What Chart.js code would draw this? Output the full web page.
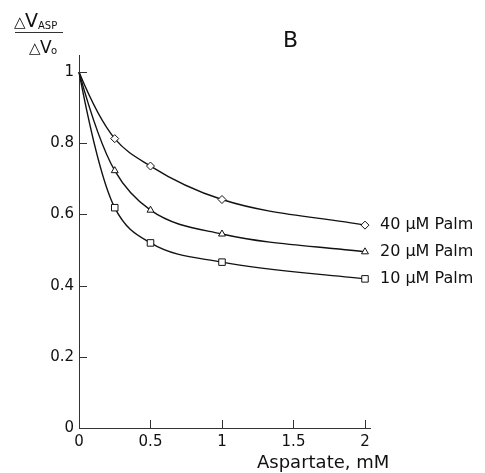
<!DOCTYPE html>
<html>
<head>
<meta charset="utf-8">
<script src="https://cdn.jsdelivr.net/npm/chart.js@4/dist/chart.umd.min.js"></script>
<style>
  html, body { margin: 0; background: #fff; }
  #wrap { width: 485px; height: 473px; position: relative; }
</style>
</head>
<body>
<div id="wrap"><canvas id="chart"></canvas></div>
<script>
// aspartate concentration (mM) and relative response for each palmitate level
const aspartate = [0, 0.25, 0.5, 1, 2];
const palm40 = [1, 0.813, 0.736, 0.642, 0.570];
const palm20 = [1, 0.723, 0.612, 0.545, 0.495];
const palm10 = [1, 0.619, 0.520, 0.466, 0.419];
const seriesLabels = ['40 μM Palm', '20 μM Palm', '10 μM Palm'];
const xTicks = [0, 0.5, 1, 1.5, 2];
const yTicks = [0, 0.2, 0.4, 0.6, 0.8, 1];

const FONT = 'DejaVu Sans';
const INK = '#111';

function series(values, style, label) {
  return {
    label,
    data: aspartate.map((x, i) => ({ x, y: values[i] })),
    showLine: false,
    borderColor: INK,
    pointStyle: style,
    pointRadius: values.map((v, i) => (i === 0 ? 0 : style === 'rect' ? 4.6 : 4)),
    pointBorderColor: INK,
    pointBorderWidth: 1,
    pointBackgroundColor: '#fff',
  };
}

// smooth curve through each series: cubic hermite whose inner tangents are a
// mix of the spacing-weighted arithmetic and harmonic means of the secants,
// with a three-point estimate at the ends so the drop near zero starts steep
const smoothCurves = {
  id: 'smoothCurves',
  beforeDatasetsDraw(chart) {
    const { ctx } = chart;
    ctx.save();
    ctx.strokeStyle = INK;
    ctx.lineWidth = 1.4;
    ctx.lineJoin = 'round';
    chart.data.datasets.forEach((ds, di) => {
      const pts = chart.getDatasetMeta(di).data;
      const n = pts.length;
      const h = [];
      const s = [];
      for (let i = 0; i < n - 1; i++) {
        h[i] = pts[i + 1].x - pts[i].x;
        s[i] = (pts[i + 1].y - pts[i].y) / h[i];
      }
      const m = [];
      m[0] = ((2 * h[0] + h[1]) * s[0] - h[0] * s[1]) / (h[0] + h[1]);
      for (let i = 1; i < n - 1; i++) {
        const arith = (h[i] * s[i - 1] + h[i - 1] * s[i]) / (h[i - 1] + h[i]);
        const w1 = 2 * h[i] + h[i - 1];
        const w2 = h[i] + 2 * h[i - 1];
        const harm = (w1 + w2) / (w1 / s[i - 1] + w2 / s[i]);
        m[i] = (arith + harm) / 2;
      }
      m[n - 1] = s[n - 2];
      ctx.beginPath();
      ctx.moveTo(pts[0].x, pts[0].y);
      for (let i = 0; i < n - 1; i++) {
        const d = h[i] / 3;
        ctx.bezierCurveTo(
          pts[i].x + d, pts[i].y + m[i] * d,
          pts[i + 1].x - d, pts[i + 1].y - m[i + 1] * d,
          pts[i + 1].x, pts[i + 1].y,
        );
      }
      ctx.stroke();
    });
    ctx.restore();
  },
};

// inward tick marks, series labels, panel letter and axis titles
const annotations = {
  id: 'annotations',
  afterDraw(chart) {
    const { ctx, scales: { x, y } } = chart;
    ctx.save();
    ctx.strokeStyle = '#333';
    ctx.lineWidth = 1;
    xTicks.forEach((v) => {
      const px = Math.round(x.getPixelForValue(v)) + 0.5;
      ctx.beginPath();
      ctx.moveTo(px, y.bottom);
      ctx.lineTo(px, y.bottom - 8);
      ctx.stroke();
    });
    yTicks.forEach((v) => {
      const py = Math.round(y.getPixelForValue(v)) + 0.5;
      ctx.beginPath();
      ctx.moveTo(x.left, py);
      ctx.lineTo(x.left + 8, py);
      ctx.stroke();
    });

    ctx.fillStyle = INK;
    ctx.textBaseline = 'middle';
    ctx.textAlign = 'left';
    ctx.font = `16px "${FONT}"`;
    chart.data.datasets.forEach((ds) => {
      const last = ds.data[ds.data.length - 1];
      ctx.fillText(ds.label, x.getPixelForValue(last.x) + 15, y.getPixelForValue(last.y));
    });

    ctx.font = `22px "${FONT}"`;
    ctx.textBaseline = 'alphabetic';
    ctx.fillText('B', 283, 47);

    ctx.font = `18px "${FONT}"`;
    ctx.fillText('Aspartate, mM', 257, 468);

    // y title as a fraction
    ctx.font = `15px "${FONT}"`;
    ctx.fillText('△', 14, 27);
    ctx.font = `19px "${FONT}"`;
    ctx.fillText('V', 25, 27);
    ctx.font = `10px "${FONT}"`;
    ctx.fillText('ASP', 38, 29);
    ctx.beginPath();
    ctx.moveTo(15, 32.5);
    ctx.lineTo(63, 32.5);
    ctx.stroke();
    ctx.font = `15px "${FONT}"`;
    ctx.fillText('△', 29, 53);
    ctx.font = `17px "${FONT}"`;
    ctx.fillText('V', 40, 53);
    ctx.font = `10px "${FONT}"`;
    ctx.fillText('o', 51, 54);
    ctx.restore();
  },
};

new Chart(document.getElementById('chart'), {
  type: 'line',
  data: {
    datasets: [
      series(palm40, 'rectRot', seriesLabels[0]),
      series(palm20, 'triangle', seriesLabels[1]),
      series(palm10, 'rect', seriesLabels[2]),
    ],
  },
  options: {
    responsive: true,
    maintainAspectRatio: false,
    animation: false,
    layout: { padding: { top: 55, right: 115, bottom: 0, left: 0 } },
    plugins: { legend: { display: false }, tooltip: { enabled: false } },
    scales: {
      x: {
        type: 'linear',
        min: 0,
        max: 2.035,
        afterBuildTicks: (scale) => { scale.ticks = xTicks.map((value) => ({ value })); },
        afterFit: (scale) => { scale.height = 45; },
        grid: { display: false, drawTicks: false },
        border: { display: true, color: '#333', width: 1 },
        ticks: {
          color: INK,
          padding: 5,
          maxRotation: 0,
          font: { family: FONT, size: 15 },
          callback: (v) => String(v),
        },
      },
      y: {
        type: 'linear',
        min: 0,
        max: 1.048,
        afterBuildTicks: (scale) => { scale.ticks = yTicks.map((value) => ({ value })); },
        afterFit: (scale) => { scale.width = 79; },
        grid: { display: false, drawTicks: false },
        border: { display: true, color: '#333', width: 1 },
        ticks: {
          color: INK,
          padding: 5,
          font: { family: FONT, size: 15 },
          callback: (v) => String(v),
        },
      },
    },
  },
  plugins: [smoothCurves, annotations],
});
</script>
</body>
</html>
